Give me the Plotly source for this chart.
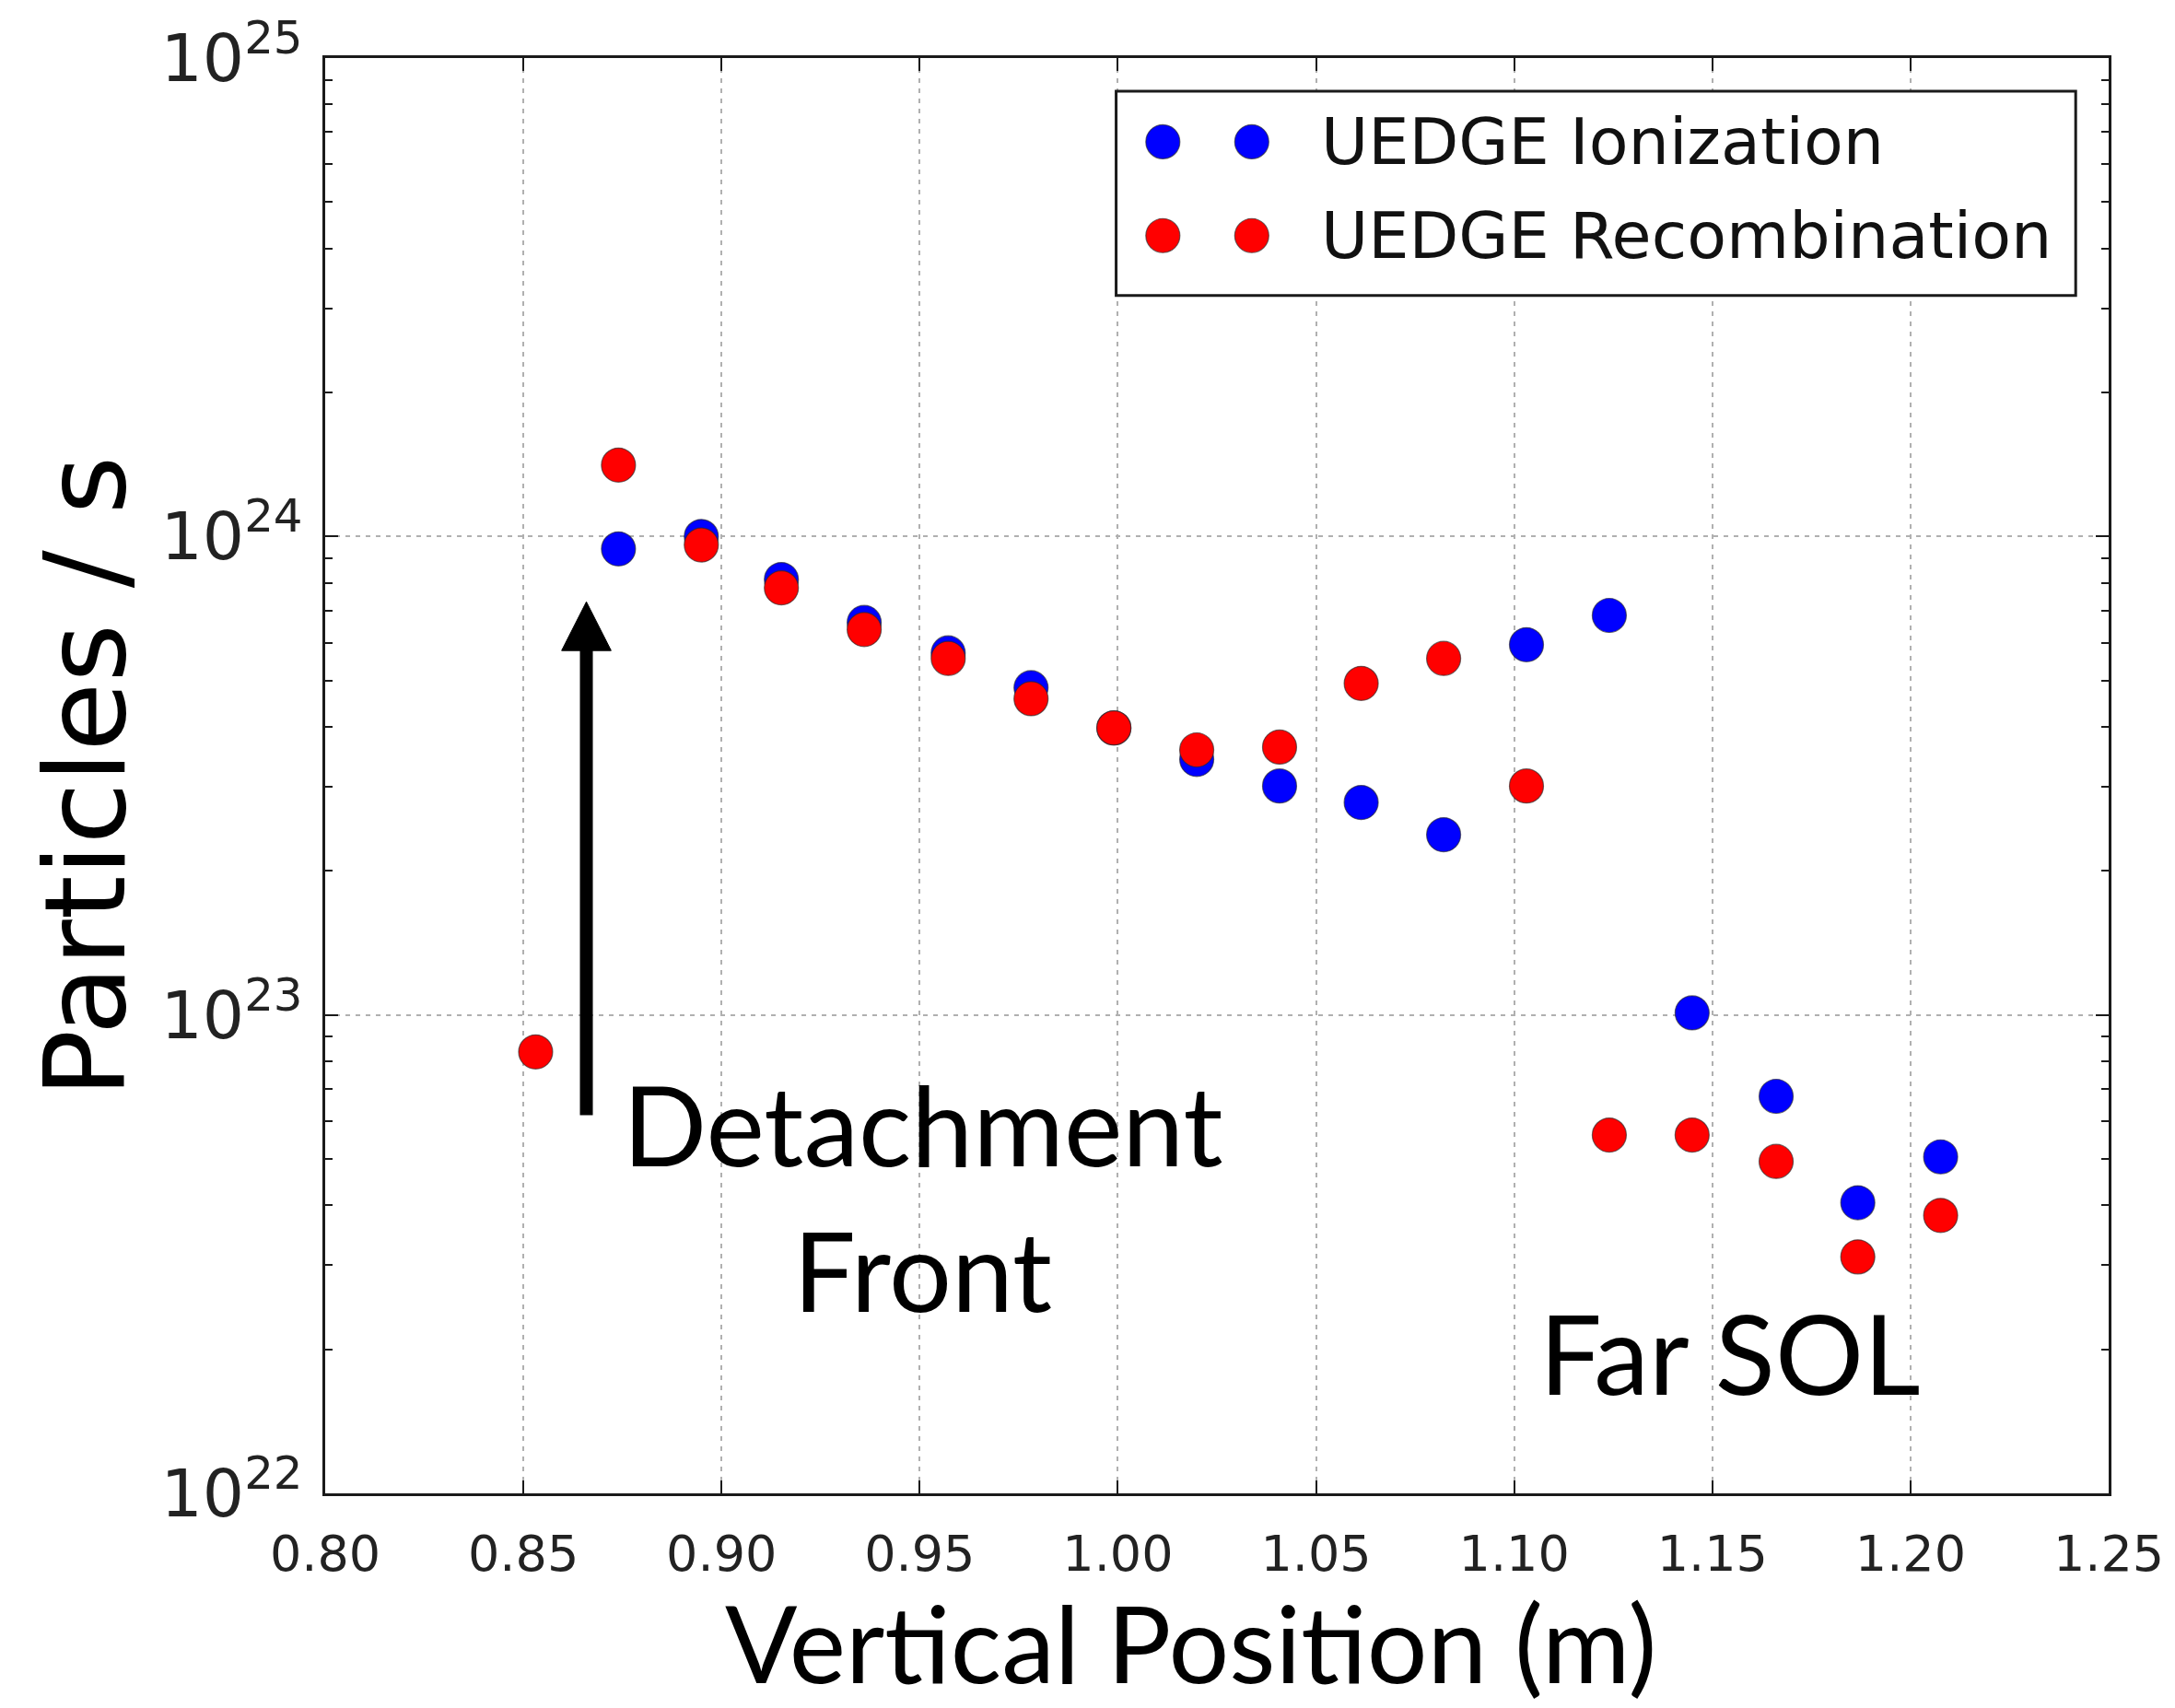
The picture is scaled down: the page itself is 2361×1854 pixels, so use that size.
import plotly.graph_objects as go

# ---------------- data ----------------
x_ion = [0.8740, 0.8949, 0.9151, 0.9360, 0.9572, 0.9781, 0.9990, 1.0199, 1.0408,
         1.0614, 1.0822, 1.1031, 1.1240, 1.1449, 1.1661, 1.1867, 1.2076]
y_ion = [9.42e23, 1.00e24, 8.13e23, 6.61e23, 5.71e23, 4.83e23, 3.98e23, 3.42e23, 3.01e23,
         2.78e23, 2.38e23, 5.94e23, 6.84e23, 1.01e23, 6.76e22, 4.05e22, 5.05e22]

x_rec = [0.8531, 0.8740, 0.8949, 0.9151, 0.9360, 0.9572, 0.9781, 0.9990, 1.0199,
         1.0408, 1.0614, 1.0822, 1.1031, 1.1240, 1.1449, 1.1661, 1.1867, 1.2076]
y_rec = [8.37e22, 1.41e24, 9.60e23, 7.81e23, 6.39e23, 5.56e23, 4.58e23, 3.98e23, 3.58e23,
         3.63e23, 4.93e23, 5.56e23, 3.01e23, 5.61e22, 5.61e22, 4.94e22, 3.12e22, 3.81e22]

series_names = ["UEDGE Ionization", "UEDGE Recombination"]
series_colors = ["#0000ff", "#ff0000"]

x_tickvals = [0.80, 0.85, 0.90, 0.95, 1.00, 1.05, 1.10, 1.15, 1.20, 1.25]
x_ticktext = ["0.80", "0.85", "0.90", "0.95", "1.00", "1.05", "1.10", "1.15", "1.20", "1.25"]
y_exponents = [22, 23, 24, 25]

x_title = "Vertical Position (m)"
y_title = "Particles / s"
note_front = ["Detachment", "Front"]
note_far = "Far SOL"
arrow_x = 0.8659

# ---------------- figure ----------------
W, H = 2361, 1854
L, R, T, B = 353, 62, 61, 233
PW, PH = W - L - R, H - T - B


def px(xp):
    return (xp - L) / PW


def py(yp):
    return (H - B - yp) / PH


mk_line = dict(width=1.2, color="rgba(40,40,40,0.65)")
fig = go.Figure()
fig.add_trace(go.Scatter(x=x_ion, y=y_ion, mode="markers", name=series_names[0],
                         showlegend=False,
                         marker=dict(size=37, color=series_colors[0], line=mk_line)))
fig.add_trace(go.Scatter(x=x_rec, y=y_rec, mode="markers", name=series_names[1],
                         showlegend=False,
                         marker=dict(size=37, color=series_colors[1], line=mk_line)))

axcol = "#1a1a1a"
gridcol = "#b0b0b0"

fig.update_layout(
    width=W, height=H, autosize=False,
    margin=dict(l=L, r=R, t=T, b=B, pad=0),
    paper_bgcolor="white", plot_bgcolor="white",
    showlegend=False,
    xaxis=dict(
        range=[0.80, 1.25], tickmode="array", tickvals=x_tickvals, ticktext=x_ticktext,
        showline=True, linecolor=axcol, linewidth=3, mirror="ticks",
        ticks="inside", ticklen=14, tickwidth=2, tickcolor=axcol,
        showgrid=True, gridcolor=gridcol, gridwidth=2, griddash="5px,6px",
        zeroline=False, tickfont=dict(family="DejaVu Sans", size=54, color="#222222"),
        ticklabelstandoff=16,
    ),
    yaxis=dict(
        type="log", range=[y_exponents[0], y_exponents[-1]], dtick=1,
        exponentformat="power", showexponent="all",
        showline=True, linecolor=axcol, linewidth=3, mirror="allticks",
        ticks="inside", ticklen=14, tickwidth=2, tickcolor=axcol,
        minor=dict(ticks="inside", ticklen=8, tickwidth=2, tickcolor=axcol,
                   dtick="D1", showgrid=False),
        showgrid=True, gridcolor=gridcol, gridwidth=2, griddash="5px,6px",
        zeroline=False, tickfont=dict(family="DejaVu Sans", size=57, color="#222222"),
        ticklabelstandoff=10,
    ),
)

# ---- legend box (two markers per entry, as in the original) ----
shapes = [dict(type="rect", xref="paper", yref="paper",
               x0=px(1216), x1=px(2263), y0=py(319), y1=py(97),
               line=dict(color=axcol, width=3), fillcolor="white", layer="above")]
rows_y = [152, 254]
dots_x = [1267, 1364]
annotations = []
for name, col, ry in zip(series_names, series_colors, rows_y):
    for dx in dots_x:
        shapes.append(dict(type="circle", xref="paper", yref="paper",
                           xsizemode="pixel", ysizemode="pixel",
                           xanchor=px(dx), yanchor=py(ry),
                           x0=-18.5, x1=18.5, y0=-18.5, y1=18.5,
                           fillcolor=col, line=mk_line, layer="above"))
    annotations.append(dict(xref="paper", yref="paper", x=px(1438), y=py(ry),
                            xanchor="left", yanchor="middle", showarrow=False,
                            text=name, font=dict(family="DejaVu Sans", size=70, color="#111111")))

# ---- arrow for the detachment front ----
half_w = 27 / PW * 0.45
shapes.append(dict(type="line", xref="x", yref="paper",
                   x0=arrow_x, x1=arrow_x, y0=py(1210), y1=py(700),
                   line=dict(color="black", width=14), layer="above"))
shapes.append(dict(type="path", xref="x", yref="paper",
                   path=f"M {arrow_x - half_w},{py(705)} L {arrow_x},{py(652)} "
                        f"L {arrow_x + half_w},{py(705)} Z",
                   fillcolor="black", line=dict(color="black", width=1), layer="above"))

big = dict(family="Lato", size=120, color="black")
annotations += [
    dict(xref="paper", yref="paper", x=px(1005), y=py(1219), text=note_front[0],
         showarrow=False, xanchor="center", yanchor="middle", font=big),
    dict(xref="paper", yref="paper", x=px(1005), y=py(1378), text=note_front[1],
         showarrow=False, xanchor="center", yanchor="middle", font=big),
    dict(xref="paper", yref="paper", x=px(1886), y=py(1468), text=note_far,
         showarrow=False, xanchor="center", yanchor="middle", font=big),
    dict(xref="paper", yref="paper", x=px(1297), y=py(H - 1), text=x_title,
         showarrow=False, xanchor="center", yanchor="bottom", borderpad=0,
         font=dict(family="Lato", size=116, color="black")),
    dict(xref="paper", yref="paper", x=px(92), y=py(842), text=y_title, textangle=-90,
         showarrow=False, xanchor="center", yanchor="middle",
         font=dict(family="DejaVu Sans", size=122, color="black")),
]

fig.update_layout(shapes=shapes, annotations=annotations)
fig.write_html("out.html")
